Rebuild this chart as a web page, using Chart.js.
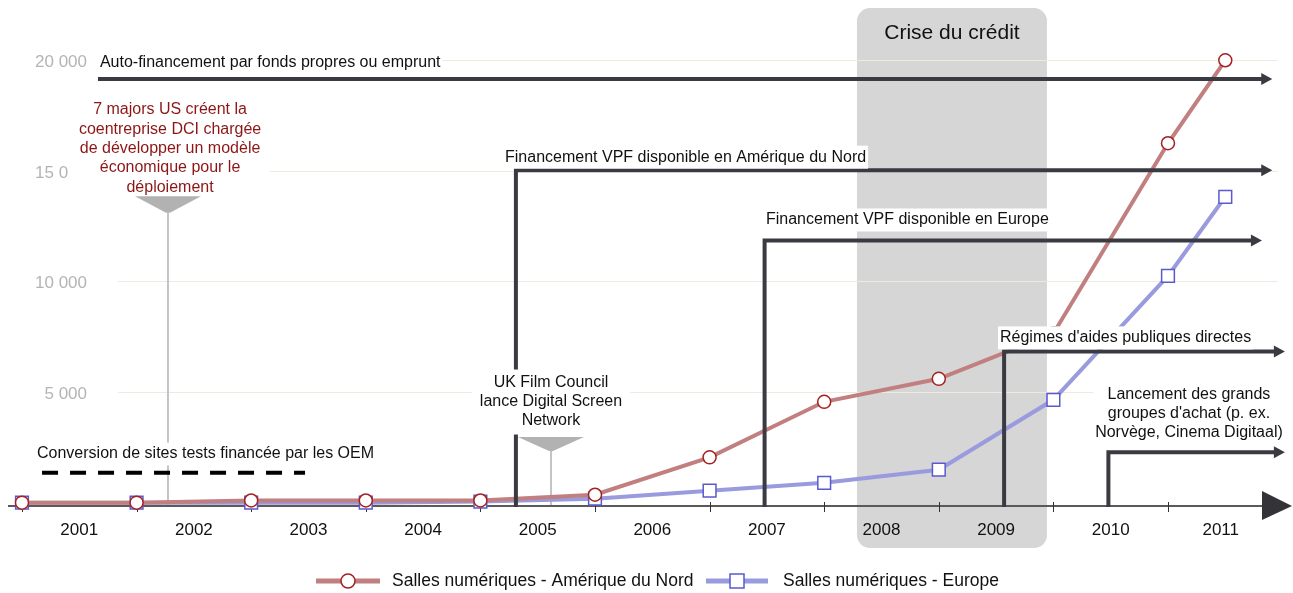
<!DOCTYPE html>
<html>
<head>
<meta charset="utf-8">
<script src="https://cdn.jsdelivr.net/npm/chart.js@4.4.1/dist/chart.umd.min.js"></script>
<style>
  html, body { margin: 0; padding: 0; background: #fff; }
  #wrap { width: 1293px; height: 593px; position: relative; }
</style>
</head>
<body>
<div id="wrap"><canvas id="cinemaChart"></canvas></div>
<script>
// points sit between the year labels (mid-year), last one on 2011
const pointYears = [2000.5, 2001.5, 2002.5, 2003.5, 2004.5, 2005.5, 2006.5, 2007.5, 2008.5, 2009.5, 2010.5, 2011];
const northAmerica = [0, 0, 100, 100, 100, 360, 2050, 4560, 5600, 7650, 16250, 20000];
const europe = [0, 0, 0, 0, 50, 180, 540, 900, 1490, 4650, 10250, 13830];

const yearLabels = ['2001', '2002', '2003', '2004', '2005', '2006', '2007', '2008', '2009', '2010', '2011'];
const yearValues = [2001, 2002, 2003, 2004, 2005, 2006, 2007, 2008, 2009, 2010, 2010.96];
const yTickValues = [5000, 10000, 15000, 20000];
const yTickLabels = ['5 000', '10 000', '15 0', '20 000'];

const seriesNames = ['Salles numériques - Amérique du Nord', 'Salles numériques - Europe'];

// period arrows: start year, end year, level
const periodLabels = [
  ['Auto-financement par fonds propres ou emprunt'],
  ['Financement VPF disponible en Amérique du Nord'],
  ['Financement VPF disponible en Europe'],
  ["Régimes d'aides publiques directes"],
  ['Lancement des grands', "groupes d'achat (p. ex.", 'Norvège, Cinema Digitaal)']
];
const periodStart = [2001.163, 2004.81, 2006.98, 2009.07, 2009.98];
const periodEnd = [2011.41, 2011.41, 2011.32, 2011.52, 2011.52];
const periodLevel = [19150, 15030, 11850, 6830, 2280];
const periodTextYear = [2001.18, 2004.715, 2006.992, 2009.034, 2010.683];
const periodTextLevel = [19880, 15620, 12780, 7450, 4870];

const crisisLabel = 'Crise du crédit';
const crisisFrom = 2007.786, crisisTo = 2009.444;

const majorsText = ['7 majors US créent la', 'coentreprise DCI chargée', 'de développer un modèle', 'économique pour le', 'déploiement'];
const ukText = ['UK Film Council', 'lance Digital Screen', 'Network'];
const oemText = 'Conversion de sites tests financée par les OEM';

const FONT = '"Liberation Sans", Arial, sans-serif';

function textBox(ctx, lines, x, y, opts) {
  const lh = opts.lineHeight || 19;
  ctx.font = opts.font;
  const widths = lines.map(l => ctx.measureText(l).width);
  const w = Math.max(...widths);
  const h = lh * lines.length;
  const left = opts.align === 'center' ? x - w / 2 : x;
  const padX = opts.padX || 2, padY = opts.padY || 2;
  ctx.fillStyle = '#fff';
  ctx.fillRect(left - padX, y - lh / 2 - padY, w + 2 * padX, h + 2 * padY);
  ctx.fillStyle = opts.color || '#111';
  ctx.textAlign = opts.align || 'left';
  ctx.textBaseline = 'middle';
  lines.forEach((l, i) => ctx.fillText(l, x, y + i * lh));
}

function arrowHead(ctx, x, y, color) {
  ctx.fillStyle = color;
  ctx.beginPath();
  ctx.moveTo(x, y);
  ctx.lineTo(x - 11, y - 6);
  ctx.lineTo(x - 11, y + 6);
  ctx.closePath();
  ctx.fill();
}

function funnel(ctx, chart, yr, top, tip) {
  const { x, y } = chart.scales;
  const px = x.getPixelForValue(yr);
  const pt = y.getPixelForValue(top), pa = y.getPixelForValue(tip);
  ctx.fillStyle = '#b2b2b2';
  ctx.beginPath();
  ctx.moveTo(px - 33, pt);
  ctx.lineTo(px + 33, pt);
  ctx.lineTo(px + 2, pa);
  ctx.lineTo(px - 2, pa);
  ctx.closePath();
  ctx.fill();
}

const backgroundPlugin = {
  id: 'background',
  beforeDatasetsDraw(chart) {
    const { ctx, chartArea, scales: { x, y } } = chart;
    ctx.save();

    // credit crisis band
    const bx0 = x.getPixelForValue(crisisFrom), bx1 = x.getPixelForValue(crisisTo);
    const by0 = y.getPixelForValue(22360), by1 = y.getPixelForValue(-2050);
    ctx.fillStyle = '#d6d6d6';
    ctx.beginPath();
    ctx.roundRect(bx0, by0, bx1 - bx0, by1 - by0, 13);
    ctx.fill();
    ctx.fillStyle = '#111';
    ctx.font = '21px ' + FONT;
    ctx.textAlign = 'center';
    ctx.textBaseline = 'middle';
    ctx.fillText(crisisLabel, (bx0 + bx1) / 2, by0 + 25);

    // gridlines and y labels
    ctx.strokeStyle = '#ecebdf';
    ctx.lineWidth = 1;
    ctx.font = '17px ' + FONT;
    yTickValues.forEach((v, i) => {
      const py = Math.round(y.getPixelForValue(v)) + 0.5;
      ctx.beginPath();
      ctx.moveTo(118, py);
      ctx.lineTo(1278, py);
      ctx.stroke();
      const full = v.toLocaleString('fr-FR').replace(/\s/g, ' ');
      const left = 87 - ctx.measureText(full).width;
      ctx.fillStyle = '#b4b4b4';
      ctx.textAlign = 'left';
      ctx.fillText(yTickLabels[i], left, py + 2);
    });

    // thin grey event lines
    const axisY = chartArea.bottom;
    [[2001.774, 13110], [2005.116, 2340]].forEach(([yr, tip]) => {
      const px = x.getPixelForValue(yr);
      ctx.strokeStyle = '#c4c4c4';
      ctx.lineWidth = 2;
      ctx.beginPath();
      ctx.moveTo(px, y.getPixelForValue(tip));
      ctx.lineTo(px, axisY - 1);
      ctx.stroke();
    });

    // x axis
    ctx.strokeStyle = '#5a5a5a';
    ctx.lineWidth = 2;
    ctx.beginPath();
    ctx.moveTo(chartArea.left, axisY);
    ctx.lineTo(1265, axisY);
    ctx.stroke();
    ctx.lineWidth = 1;
    ctx.strokeStyle = '#333';
    pointYears.slice(0, 11).forEach(v => {
      const px = Math.round(x.getPixelForValue(v)) + 0.5;
      ctx.beginPath();
      ctx.moveTo(px, axisY - 4);
      ctx.lineTo(px, axisY + 6);
      ctx.stroke();
    });
    ctx.fillStyle = '#333338';
    ctx.beginPath();
    ctx.moveTo(1262, axisY - 15);
    ctx.lineTo(1292, axisY);
    ctx.lineTo(1262, axisY + 14);
    ctx.closePath();
    ctx.fill();

    ctx.fillStyle = '#111';
    ctx.font = '17px ' + FONT;
    ctx.textAlign = 'center';
    ctx.textBaseline = 'middle';
    yearLabels.forEach((l, i) => ctx.fillText(l, x.getPixelForValue(yearValues[i]), axisY + 24));

    ctx.restore();
  },
  afterDatasetsDraw(chart) {
    const { ctx, chartArea, scales: { x, y } } = chart;
    const axisY = chartArea.bottom;
    const dark = '#3a3a42';
    ctx.save();

    // period arrows
    ctx.strokeStyle = dark;
    ctx.lineWidth = 4;
    periodLabels.forEach((lbl, i) => {
      const x0 = x.getPixelForValue(periodStart[i]);
      const x1 = x.getPixelForValue(periodEnd[i]);
      const py = y.getPixelForValue(periodLevel[i]);
      ctx.beginPath();
      if (i === 0) {
        ctx.moveTo(x0, py);
      } else {
        ctx.moveTo(x0, axisY + 1);
        ctx.lineTo(x0, py);
      }
      ctx.lineTo(x1 - 9, py);
      ctx.stroke();
      arrowHead(ctx, x1, py, dark);
    });

    // OEM dashed line
    ctx.strokeStyle = '#000';
    ctx.lineWidth = 4;
    ctx.setLineDash([16, 12]);
    ctx.beginPath();
    ctx.moveTo(x.getPixelForValue(2000.675), y.getPixelForValue(1356));
    ctx.lineTo(x.getPixelForValue(2002.97), y.getPixelForValue(1356));
    ctx.stroke();
    ctx.setLineDash([]);

    // texts on white
    const f = '16px ' + FONT;
    periodLabels.forEach((lbl, i) => {
      textBox(ctx, lbl, x.getPixelForValue(periodTextYear[i]), y.getPixelForValue(periodTextLevel[i]),
        { font: f, align: i === 4 ? 'center' : 'left', lineHeight: 19 });
    });
    textBox(ctx, [oemText], x.getPixelForValue(2000.631), y.getPixelForValue(2200), { font: f });
    textBox(ctx, majorsText, x.getPixelForValue(2001.792), y.getPixelForValue(17750),
      { font: f, align: 'center', lineHeight: 19.3, color: '#8c1616', padX: 9, padY: 2 });
    textBox(ctx, ukText, x.getPixelForValue(2005.116), y.getPixelForValue(5410),
      { font: f, align: 'center', lineHeight: 19, padX: 8, padY: 4 });

    // grey funnels on top of the text boxes
    funnel(ctx, chart, 2001.774, 13850, 13110);
    funnel(ctx, chart, 2005.116, 2970, 2340);

    // legend
    const ly = 581;
    const items = [[316, 380, 392], [706, 768, 783]];
    chart.data.datasets.forEach((ds, i) => {
      const [a, b, t] = items[i];
      ctx.strokeStyle = ds.borderColor;
      ctx.lineWidth = 5;
      ctx.beginPath();
      ctx.moveTo(a, ly);
      ctx.lineTo(b, ly);
      ctx.stroke();
      const cx = (a + b) / 2;
      ctx.fillStyle = '#fff';
      ctx.strokeStyle = ds.pointBorderColor;
      ctx.lineWidth = 1.5;
      ctx.beginPath();
      if (i === 0) ctx.arc(cx, ly, 7, 0, Math.PI * 2);
      else ctx.rect(cx - 7, ly - 7, 14, 14);
      ctx.fill();
      ctx.stroke();
      ctx.fillStyle = '#111';
      ctx.font = '17.5px ' + FONT;
      ctx.textAlign = 'left';
      ctx.textBaseline = 'middle';
      ctx.fillText(ds.label, t, ly);
    });

    ctx.restore();
  }
};

new Chart(document.getElementById('cinemaChart'), {
  type: 'line',
  data: {
    datasets: [{
      label: seriesNames[0],
      data: pointYears.map((yr, i) => ({ x: yr, y: northAmerica[i] })),
      borderColor: '#c27f7f',
      borderWidth: 4,
      pointStyle: 'circle',
      pointRadius: 6.5,
      pointBorderWidth: 1.5,
      pointBorderColor: '#a52020',
      pointBackgroundColor: '#fff',
      clip: false
    }, {
      label: seriesNames[1],
      data: pointYears.map((yr, i) => ({ x: yr, y: europe[i] })),
      borderColor: '#9a9ade',
      borderWidth: 4,
      pointStyle: 'rect',
      pointRadius: 9,
      pointBorderWidth: 1.5,
      pointBorderColor: '#5a5ad0',
      pointBackgroundColor: '#fff',
      clip: false
    }]
  },
  options: {
    responsive: true,
    maintainAspectRatio: false,
    animation: false,
    layout: { autoPadding: false, padding: { left: 8, right: 8, top: 5, bottom: 87 } },
    scales: {
      x: { type: 'linear', min: 2000.378, max: 2011.521, display: false },
      y: { type: 'linear', min: -150, max: 22500, display: false }
    },
    plugins: {
      legend: { display: false },
      tooltip: { enabled: false }
    }
  },
  plugins: [backgroundPlugin]
});
</script>
</body>
</html>
